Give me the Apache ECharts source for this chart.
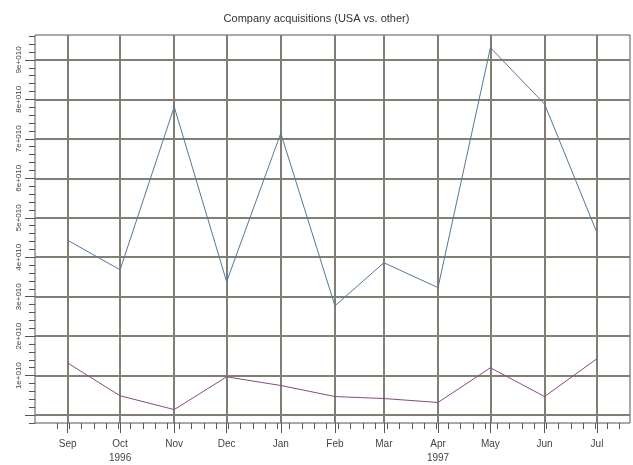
<!DOCTYPE html>
<html>
<head>
<meta charset="utf-8">
<script src="https://cdn.jsdelivr.net/npm/echarts@6/dist/echarts.min.js"></script>
<style>
  html, body { margin: 0; padding: 0; background: #ffffff; }
  #chart { width: 633px; height: 465px; }
</style>
</head>
<body>
<div id="chart"></div>
<script>
// Monthly acquisition values (first of each month)
const months = ['1996-09', '1996-10', '1996-11', '1996-12', '1997-01', '1997-02',
                '1997-03', '1997-04', '1997-05', '1997-06', '1997-07'];
const monthNames = ['Sep', 'Oct', 'Nov', 'Dec', 'Jan', 'Feb', 'Mar', 'Apr', 'May', 'Jun', 'Jul'];
const yearLabels = { '1996-10': '1996', '1997-04': '1997' };
const usa   = [4.43e10, 3.68e10, 7.81e10, 3.38e10, 7.14e10, 2.77e10, 3.86e10, 3.23e10, 9.31e10, 7.88e10, 4.62e10];
const other = [1.32e10, 0.49e10, 0.14e10, 0.97e10, 0.75e10, 0.47e10, 0.42e10, 0.32e10, 1.20e10, 0.47e10, 1.43e10];
const yTickValues  = [0, 1e10, 2e10, 3e10, 4e10, 5e10, 6e10, 7e10, 8e10, 9e10];
const yLabelValues = [1e10, 2e10, 3e10, 4e10, 5e10, 6e10, 7e10, 8e10, 9e10];

const DAY = 86400000;
const origin = Date.UTC(1996, 8, 1);
function dayOf(ym) {
  const [y, m] = ym.split('-').map(Number);
  return Math.round((Date.UTC(y, m - 1, 1) - origin) / DAY);
}
const monthDays = months.map(dayOf);
const labelByDay = {};
months.forEach((m, i) => {
  labelByDay[monthDays[i]] = monthNames[i] + (yearLabels[m] ? '\n' + yearLabels[m] : '');
});

const xMin = -18.7, xMax = 321.9;
const yMin = -0.2e10, yMax = 9.63e10;

// weekly (Monday) minor ticks along the time axis
const weekTicks = [];
for (let d = -6; d <= xMax; d += 7) weekTicks.push(d);
// minor ticks along the value axis
const yMinorTicks = [];
for (let k = -1; k * 0.2e10 <= yMax; k++) yMinorTicks.push(k * 0.2e10);

const gridColor = '#7f7f74';
const tickColor = '#555555';
const font = 'Liberation Sans, Arial, sans-serif';
const noLine = { show: false, onZero: false };

const chart = echarts.init(document.getElementById('chart'), null, { renderer: 'canvas' });
chart.setOption({
  animation: false,
  backgroundColor: '#ffffff',
  title: {
    text: 'Company acquisitions (USA vs. other)',
    left: 'center',
    top: 8,
    textStyle: { fontSize: 11, fontWeight: 'normal', color: '#333333', fontFamily: font }
  },
  grid: {
    left: 35, right: 3, top: 35, bottom: 41,
    show: true, borderColor: '#555555', borderWidth: 1, backgroundColor: 'transparent'
  },
  xAxis: [
    {
      type: 'value', min: xMin, max: xMax, position: 'bottom',
      axisLine: noLine,
      axisTick: { show: true, length: 10, customValues: monthDays, lineStyle: { color: tickColor, width: 1 } },
      axisLabel: {
        customValues: monthDays, margin: 14,
        formatter: v => labelByDay[Math.round(v)] || '',
        color: '#444444', fontSize: 10, fontFamily: font, lineHeight: 14
      },
      splitLine: { show: true, lineStyle: { color: gridColor, width: 2 } }
    },
    {
      type: 'value', min: xMin, max: xMax, position: 'bottom',
      axisLine: noLine,
      axisTick: { show: true, length: 6, customValues: weekTicks, lineStyle: { color: tickColor, width: 1 } },
      axisLabel: { show: false },
      splitLine: { show: false }
    }
  ],
  yAxis: [
    {
      type: 'value', min: yMin, max: yMax, position: 'left',
      axisLine: noLine,
      axisTick: { show: true, length: 10, customValues: yTickValues, lineStyle: { color: tickColor, width: 1 } },
      axisLabel: {
        customValues: yLabelValues, rotate: 90, margin: 12,
        formatter: v => Math.round(v / 1e10) + 'e+010',
        color: '#444444', fontSize: 8, fontFamily: font
      },
      splitLine: { show: true, lineStyle: { color: gridColor, width: 2 } }
    },
    {
      type: 'value', min: yMin, max: yMax, position: 'left',
      axisLine: noLine,
      axisTick: { show: true, length: 6, customValues: yMinorTicks, lineStyle: { color: tickColor, width: 1 } },
      axisLabel: { show: false },
      splitLine: { show: false }
    }
  ],
  series: [
    {
      name: 'USA', type: 'line', xAxisIndex: 0, yAxisIndex: 0,
      data: months.map((m, i) => [monthDays[i], usa[i]]),
      symbol: 'none', lineStyle: { color: '#56789a', width: 1 }, silent: true
    },
    {
      name: 'other', type: 'line', xAxisIndex: 0, yAxisIndex: 0,
      data: months.map((m, i) => [monthDays[i], other[i]]),
      symbol: 'none', lineStyle: { color: '#8a4a7c', width: 1 }, silent: true
    }
  ]
});
</script>
</body>
</html>
